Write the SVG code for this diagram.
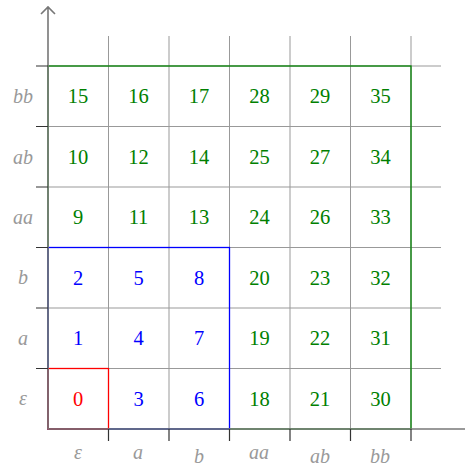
<svg xmlns="http://www.w3.org/2000/svg" width="465" height="466" viewBox="0 0 465 466">
<style>
.grid{stroke:#999;stroke-width:1;fill:none}
.axis{stroke:#777;stroke-width:1.6;fill:none}
.tick{stroke:#333;stroke-width:1.2}
.lbl{font-family:"Liberation Serif","DejaVu Serif",serif;font-style:italic;font-size:20px;fill:#999;text-anchor:middle;dominant-baseline:central}
.num{font-family:"Liberation Serif","DejaVu Serif",serif;font-size:20.5px;text-anchor:middle;dominant-baseline:central}
.g{fill:#008000}.b{fill:#0000ff}.r{fill:#ff0000}
</style>
<rect width="465" height="466" fill="#fff"/>
<g id="grid">
<path class="grid" d="M108.5 36V429M169 36V429M229.5 36V429M290 36V429M350.5 36V429M411 36V429M48 368.5H441M48 308H441M48 247.5H441M48 187H441M48 126.5H441M48 66H441"/>
</g>
<g id="regions">
<rect x="48" y="66" width="363" height="363" fill="none" stroke="#008000" stroke-width="1.3"/>
<rect x="48" y="247.5" width="181.5" height="181.5" fill="none" stroke="#0000ff" stroke-width="1.3"/>
<rect x="48" y="368.5" width="60.5" height="60.5" fill="none" stroke="#ff0000" stroke-width="1.3"/>
</g>
<g id="axes">
<path class="axis" d="M48 429V7M41 14L48 7L55 14"/>
<path class="axis" d="M48 429H472"/>
<path class="tick" d="M36 368.5H48M36 308H48M36 247.5H48M36 187H48M36 126.5H48M36 66H48M108.5 429V441M169 429V441M229.5 429V441M290 429V441M350.5 429V441M411 429V441"/>
</g>
<g id="ylabels">
<text class="lbl" x="23" y="398">ε</text>
<text class="lbl" x="23" y="338">a</text>
<text class="lbl" x="23" y="277">b</text>
<text class="lbl" x="23" y="217">aa</text>
<text class="lbl" x="23" y="157">ab</text>
<text class="lbl" x="23" y="96">bb</text>
</g>
<g id="xlabels">
<text class="lbl" x="78" y="452">ε</text>
<text class="lbl" x="138" y="452">a</text>
<text class="lbl" x="199" y="456">b</text>
<text class="lbl" x="259" y="452">aa</text>
<text class="lbl" x="320" y="456">ab</text>
<text class="lbl" x="380" y="456">bb</text>
</g>
<g id="cells">
<text class="num r" x="78" y="399">0</text>
<text class="num b" x="138.5" y="399">3</text>
<text class="num b" x="199" y="399">6</text>
<text class="num g" x="259.5" y="399">18</text>
<text class="num g" x="320" y="399">21</text>
<text class="num g" x="380.5" y="399">30</text>
<text class="num b" x="78" y="338">1</text>
<text class="num b" x="138.5" y="338">4</text>
<text class="num b" x="199" y="338">7</text>
<text class="num g" x="259.5" y="338">19</text>
<text class="num g" x="320" y="338">22</text>
<text class="num g" x="380.5" y="338">31</text>
<text class="num b" x="78" y="278">2</text>
<text class="num b" x="138.5" y="278">5</text>
<text class="num b" x="199" y="278">8</text>
<text class="num g" x="259.5" y="278">20</text>
<text class="num g" x="320" y="278">23</text>
<text class="num g" x="380.5" y="278">32</text>
<text class="num g" x="78" y="217">9</text>
<text class="num g" x="138.5" y="217">11</text>
<text class="num g" x="199" y="217">13</text>
<text class="num g" x="259.5" y="217">24</text>
<text class="num g" x="320" y="217">26</text>
<text class="num g" x="380.5" y="217">33</text>
<text class="num g" x="78" y="157">10</text>
<text class="num g" x="138.5" y="157">12</text>
<text class="num g" x="199" y="157">14</text>
<text class="num g" x="259.5" y="157">25</text>
<text class="num g" x="320" y="157">27</text>
<text class="num g" x="380.5" y="157">34</text>
<text class="num g" x="78" y="96">15</text>
<text class="num g" x="138.5" y="96">16</text>
<text class="num g" x="199" y="96">17</text>
<text class="num g" x="259.5" y="96">28</text>
<text class="num g" x="320" y="96">29</text>
<text class="num g" x="380.5" y="96">35</text>
</g>
</svg>
